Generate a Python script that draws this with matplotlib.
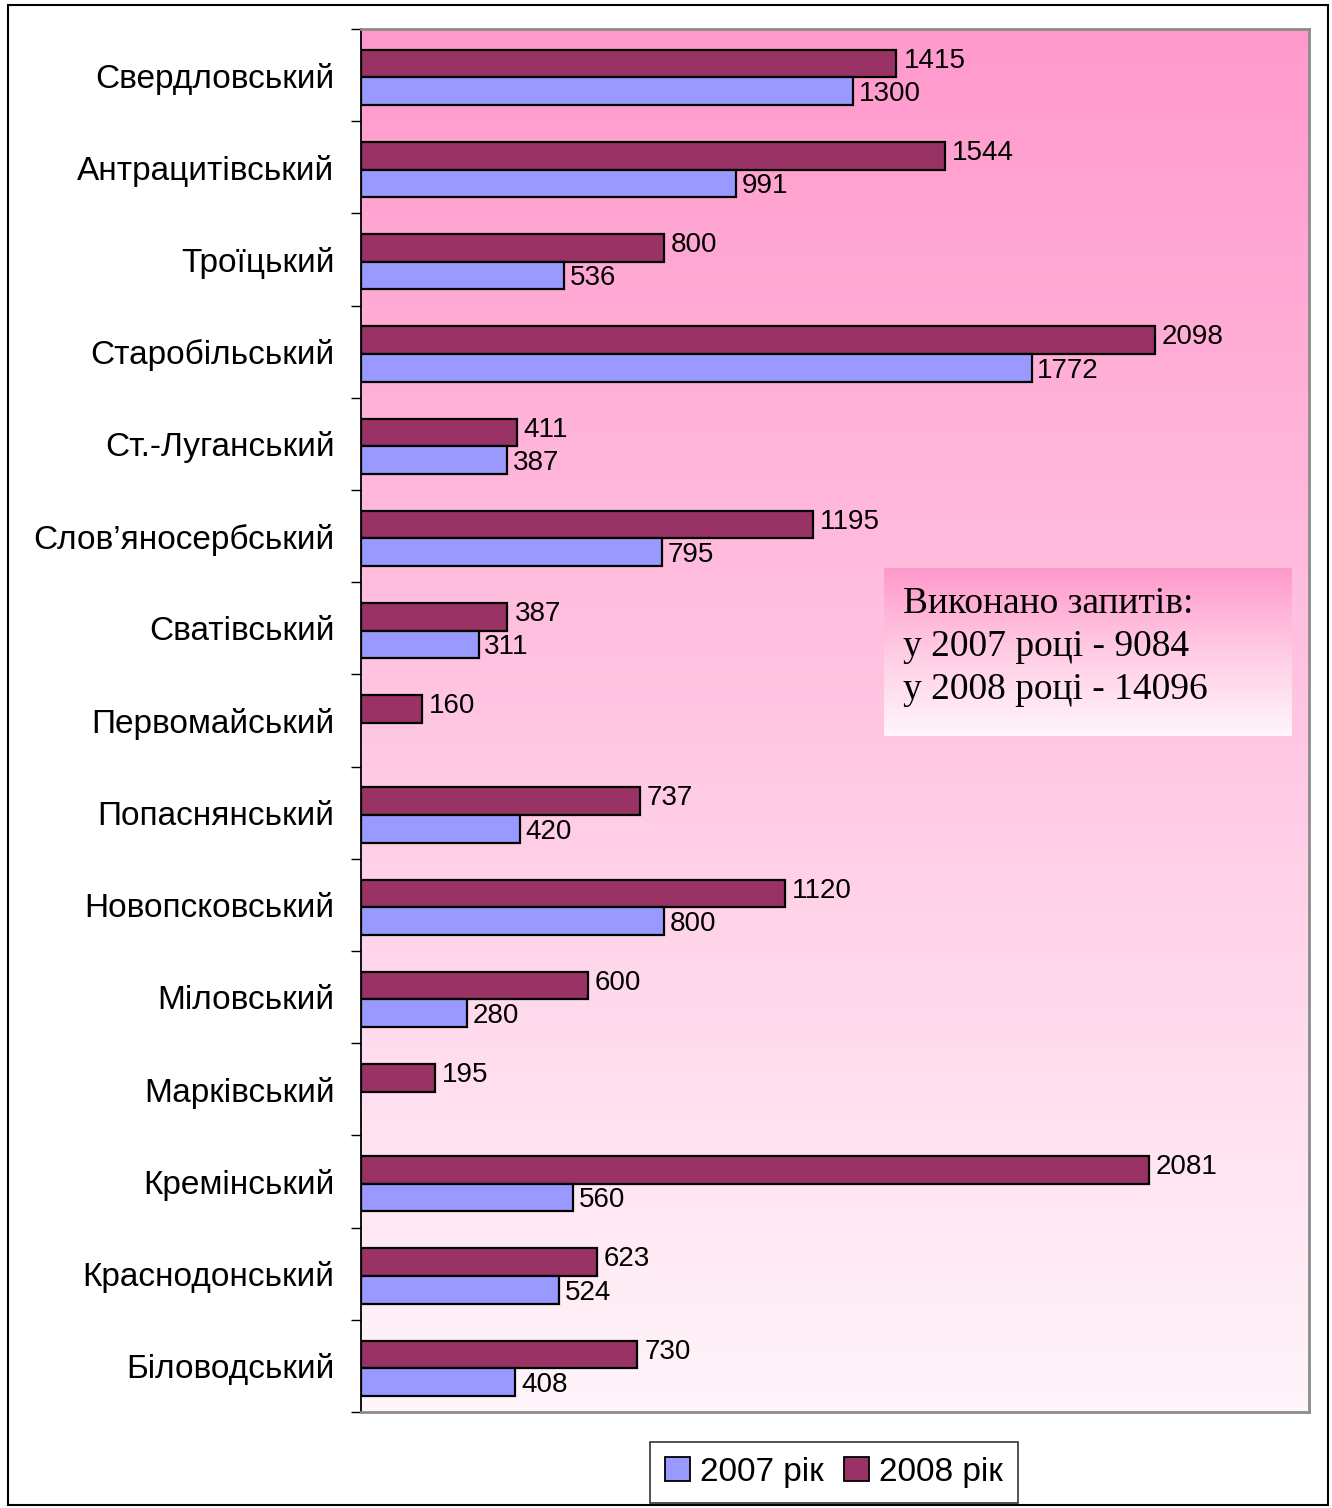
import numpy as np
import matplotlib
matplotlib.use("Agg")
import matplotlib.pyplot as plt
from matplotlib.colors import LinearSegmentedColormap
from matplotlib.patches import Rectangle, Patch

districts = ["Свердловський", "Антрацитівський", "Троїцький", "Старобільський",
             "Ст.-Луганський", "Слов’яносербський", "Сватівський", "Первомайський",
             "Попаснянський", "Новопсковський", "Міловський", "Марківський",
             "Кремінський", "Краснодонський", "Біловодський"]
values_2008 = [1415, 1544, 800, 2098, 411, 1195, 387, 160, 737, 1120, 600, 195, 2081, 623, 730]
values_2007 = [1300, 991, 536, 1772, 387, 795, 311, None, 420, 800, 280, None, 560, 524, 408]
legend_labels = ["2007 рік", "2008 рік"]
note_lines = ["Виконано запитів:", "у 2007 році - 9084", "у 2008 році - 14096"]

c2007 = "#9999FF"
c2008 = "#993366"

W, H = 1332, 1508
fig = plt.figure(figsize=(W / 100, H / 100), dpi=100)
plt.rcParams['font.family'] = ['Liberation Sans', 'DejaVu Sans']

ax = fig.add_axes([361 / W, 1 - 1412 / H, (1309 - 361) / W, (1412 - 29) / H])

# gradient background
bg = LinearSegmentedColormap.from_list("bg", ["#FFF5FA", "#FFC6E2", "#FF99CC"])
grad = np.linspace(0, 1, 256).reshape(-1, 1)
ax.imshow(grad, cmap=bg, aspect='auto', extent=[0, 1, 0, 1], origin='lower',
          transform=ax.transAxes, zorder=0)

n = len(districts)
y = np.arange(n)
h = 0.3
off = 0.025
for i in range(n):
    v8 = values_2008[i]
    v7 = values_2007[i]
    if v8 is not None:
        ax.barh(y[i] - h / 2 + off, v8, height=h, color=c2008, edgecolor='black', linewidth=1.6, zorder=2)
        ax.annotate(str(v8), xy=(v8, y[i] - h / 2 + off - 0.03), xytext=(5, 0), textcoords='offset points',
                    ha='left', va='center', fontsize=20, zorder=3)
    if v7 is not None:
        ax.barh(y[i] + h / 2 + off, v7, height=h, color=c2007, edgecolor='black', linewidth=1.6, zorder=2)
        ax.annotate(str(v7), xy=(v7, y[i] + h / 2 + off + 0.03), xytext=(4, 0), textcoords='offset points',
                    ha='left', va='center', fontsize=20, zorder=3)

ax.set_xlim(0, 2505)
ax.set_ylim(n - 0.5, -0.5)
ax.set_yticks(y)
ax.set_yticklabels(districts, fontsize=24)
ax.set_yticks(np.arange(n + 1) - 0.5, minor=True)
ax.tick_params(axis='y', which='major', length=0, pad=19)
ax.tick_params(axis='y', which='minor', length=7, width=1, color='black')
ax.set_xticks([])
for s in ['top', 'right', 'bottom']:
    ax.spines[s].set_color('#8C8C8C')
    ax.spines[s].set_linewidth(2)
ax.spines['left'].set_color('black')
ax.spines['left'].set_linewidth(1.3)

# note box with gradient
nax = fig.add_axes([884 / W, 1 - 736 / H, (1292 - 884) / W, (736 - 568) / H])
ncm = LinearSegmentedColormap.from_list("nb", ["#FFF6FB", "#FFCCE4", "#FF99CC"])
nax.imshow(grad, cmap=ncm, aspect='auto', extent=[0, 1, 0, 1], origin='lower')
nax.set_xlim(0, 1)
nax.set_ylim(0, 1)
nax.axis('off')
for k, line in enumerate(note_lines):
    nax.text(19 / 408, 1 - (45 + 43 * k) / 168, line, family=['Liberation Serif', 'DejaVu Serif'],
             fontsize=27, ha='left', va='baseline')

# legend
handles = [Patch(facecolor=c2007, edgecolor='black', linewidth=1.3),
           Patch(facecolor=c2008, edgecolor='black', linewidth=1.3)]
leg = fig.legend(handles, legend_labels, loc='center', bbox_to_anchor=(834 / W, 1 - 1472 / H),
                 ncol=2, fontsize=24, frameon=True, fancybox=False, edgecolor='black',
                 handlelength=0.75, handleheight=0.75, handletextpad=0.3, columnspacing=0.6,
                 borderpad=0.45)
leg.get_frame().set_linewidth(1.2)

# outer frame
fig.patches.append(Rectangle((8 / W, 1 - 1505 / H), (1328 - 8) / W, (1505 - 5) / H,
                             transform=fig.transFigure, fill=False, edgecolor='black', linewidth=1.5))

fig.savefig("out.png", dpi=100, facecolor='white')
